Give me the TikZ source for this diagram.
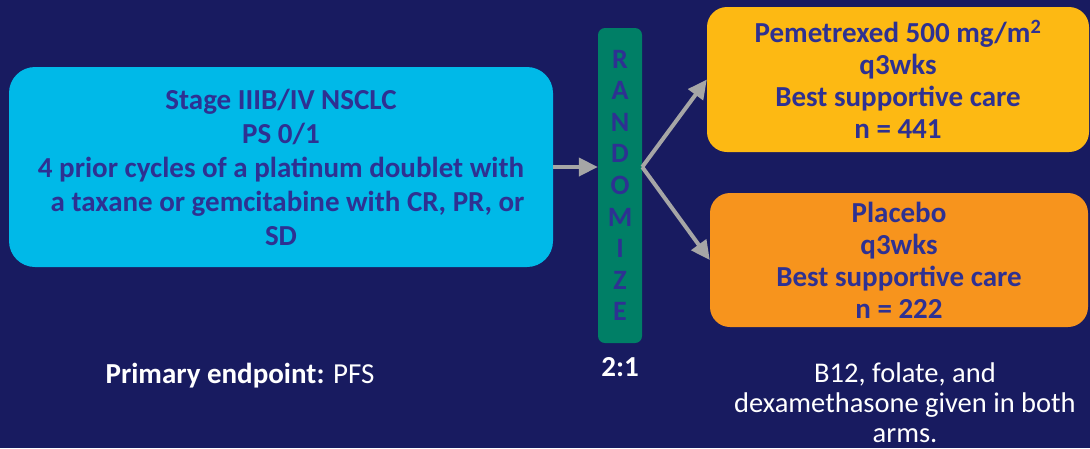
\documentclass[tikz,border=0pt]{standalone}
\usepackage{fontspec}
\setmainfont{Carlito}
\usetikzlibrary{arrows.meta,positioning}

\definecolor{slidebg}{RGB}{24,27,96}
\definecolor{elig}{RGB}{0,185,232}
\definecolor{armA}{RGB}{253,185,19}
\definecolor{armB}{RGB}{247,148,29}
\definecolor{randbar}{RGB}{0,127,102}
\definecolor{boxtxt}{RGB}{46,49,146}
\definecolor{arrowgray}{RGB}{166,166,166}

\begin{document}
\begin{tikzpicture}[x=1pt,y=-1pt,>={Triangle[length=19pt,width=18pt]},
  boxtext/.style={align=center,text=boxtxt,inner sep=0pt,font=\fontsize{29}{32}\selectfont\bfseries},
  flow/.style={->,arrowgray,line width=4pt}]
\fill[slidebg] (0,0) rectangle (1090,448);
\useasboundingbox (0,0) rectangle (1090,448);
% eligibility
\node[boxtext,fill=elig,rounded corners=26pt,minimum width=544pt,minimum height=200pt,
  font=\fontsize{29}{34}\selectfont\bfseries] (elig) at (281,167)
  {Stage IIIB/IV NSCLC\\ PS 0/1\\ 4 prior cycles of a platinum doublet with\\ \ \ a taxane or gemcitabine with CR, PR, or\\ SD};
% randomisation bar
\node[boxtext,fill=randbar,rounded corners=7pt,minimum width=44pt,minimum height=315pt,
  font=\fontsize{28}{31.6}\selectfont\bfseries] (rand) at (620,185.5)
  {R\\ A\\ N\\ D\\ O\\ M\\ I\\ Z\\ E};
\node[text=white,font=\fontsize{29}{32}\selectfont\bfseries] (ratio) at (620,367) {2:1};
% the two arms
\node[boxtext,fill=armA,rounded corners=20pt,minimum width=382pt,minimum height=145pt] (pem) at (898,79.5)
  {Pemetrexed 500 mg/m\textsuperscript{2}\\ q3wks\\ Best supportive care\\ n = 441};
\node[boxtext,fill=armB,rounded corners=20pt,minimum width=378pt,minimum height=134pt] (pbo) at (899,260)
  {Placebo\\ q3wks\\ Best supportive care\\ n = 222};
% notes
\node[text=white,font=\fontsize{29}{32}\selectfont] (endpt) at (240,376) {\textbf{Primary endpoint:} PFS};
\node[text=white,align=center,font=\fontsize{28.5}{30}\selectfont] (vitamins) at (905,403)
  {B12, folate, and\\ dexamethasone given in both\\ arms.};
% arrows
\coordinate (split) at (rand.east |- elig.east);
\draw[flow] (elig.east) -- (elig.east -| rand.west);
\draw[flow] (split) -- (pem.west);
\draw[flow] (split) -- (pbo.west);
\end{tikzpicture}
\end{document}
